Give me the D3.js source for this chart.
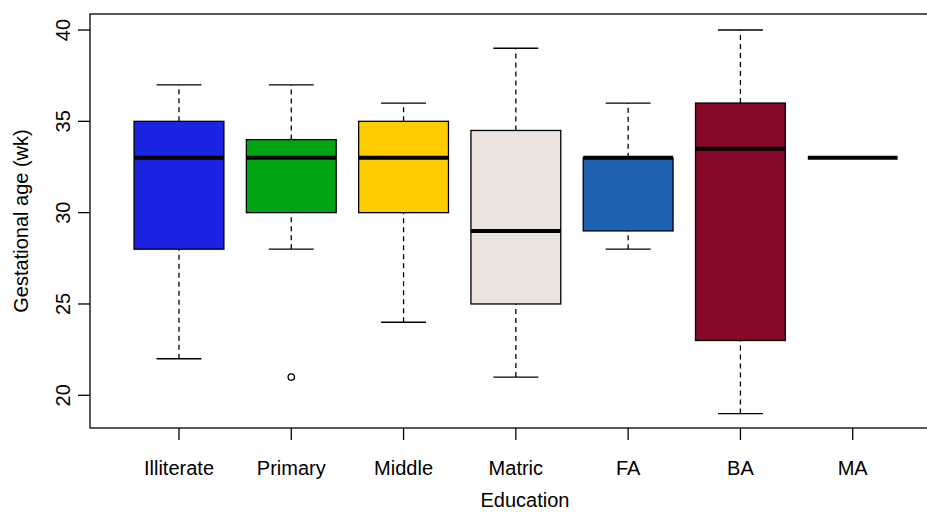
<!DOCTYPE html>
<html><head><meta charset="utf-8">
<script src="https://cdn.jsdelivr.net/npm/d3@7"></script>
<style>body{margin:0;background:#fff}svg{display:block}text{font-family:"Liberation Sans",Arial,sans-serif;fill:#000}</style>
</head><body><svg id="c" width="927" height="512"></svg>
<script>
const categories = ["Illiterate","Primary","Middle","Matric","FA","BA","MA"];
const lowWhisker = [22,28,24,21,28,19,33];
const q1 = [28,30,30,25,29,23,33];
const median = [33,33,33,29,33,33.5,33];
const q3 = [35,34,35,34.5,33,36,33];
const highWhisker = [37,37,36,39,36,40,33];
const outliers = [[],[21],[],[],[],[],[]];
const colors = ["#1c24e3","#00a514","#ffcc00","#ebe3dd","#1f62b4","#860a28","#6b7a8f"];
const yTicks = [20,25,30,35,40];

const svg = d3.select("#c");
const L=90, T=14, B=428;
const x = d3.scaleLinear().domain([0.22,7.78]).range([91.4, 940.3]);
const y = d3.scaleLinear().domain([20,40]).range([395.3, 30.0]);
const bw = 0.4*(x(2)-x(1));
const st = bw/2;
const FS = 20;

categories.forEach((c,i)=>{
  const cx = x(i+1);
  const g = svg.append("g");
  [[lowWhisker[i],q1[i]],[q3[i],highWhisker[i]]].forEach(([a,b])=>{
    if(a!==b) g.append("line").attr("x1",cx).attr("x2",cx).attr("y1",y(a)).attr("y2",y(b))
      .attr("stroke","#000").attr("stroke-width",1.3).attr("stroke-dasharray","5,4");
  });
  [lowWhisker[i],highWhisker[i]].forEach(v=>{
    if(q1[i]!==q3[i]) g.append("line").attr("x1",cx-st).attr("x2",cx+st).attr("y1",y(v)).attr("y2",y(v)).attr("stroke","#000").attr("stroke-width",1.3);
  });
  if(q1[i]!==q3[i]) g.append("rect").attr("x",cx-bw).attr("width",2*bw).attr("y",y(q3[i])).attr("height",y(q1[i])-y(q3[i]))
    .attr("fill",colors[i]).attr("stroke","#000").attr("stroke-width",1.3);
  g.append("line").attr("x1",cx-bw).attr("x2",cx+bw).attr("y1",y(median[i])).attr("y2",y(median[i]))
    .attr("stroke","#000").attr("stroke-width",4).attr("stroke-linecap","butt");
  outliers[i].forEach(v=>g.append("circle").attr("cx",cx).attr("cy",y(v)).attr("r",3.2).attr("fill","none").attr("stroke","#000").attr("stroke-width",1.3));
});

svg.append("rect").attr("x",L).attr("y",T).attr("width",940-L).attr("height",B-T).attr("fill","none").attr("stroke","#000").attr("stroke-width",1.3);

const ya = svg.append("g");
yTicks.forEach(t=>{
  ya.append("line").attr("x1",78).attr("x2",L).attr("y1",y(t)).attr("y2",y(t)).attr("stroke","#000").attr("stroke-width",1.3);
  ya.append("text").attr("transform",`translate(70,${y(t)}) rotate(-90)`).attr("text-anchor","middle").attr("font-size",FS).text(t);
});
categories.forEach((c,i)=>{
  svg.append("line").attr("x1",x(i+1)).attr("x2",x(i+1)).attr("y1",B).attr("y2",B+12).attr("stroke","#000").attr("stroke-width",1.3);
  svg.append("text").attr("x",x(i+1)).attr("y",475).attr("text-anchor","middle").attr("font-size",FS).text(c);
});
svg.append("text").attr("x",525).attr("y",507).attr("text-anchor","middle").attr("font-size",FS).text("Education");
svg.append("text").attr("transform","translate(28,221) rotate(-90)").attr("text-anchor","middle").attr("font-size",FS).text("Gestational age (wk)");
</script></body></html>
